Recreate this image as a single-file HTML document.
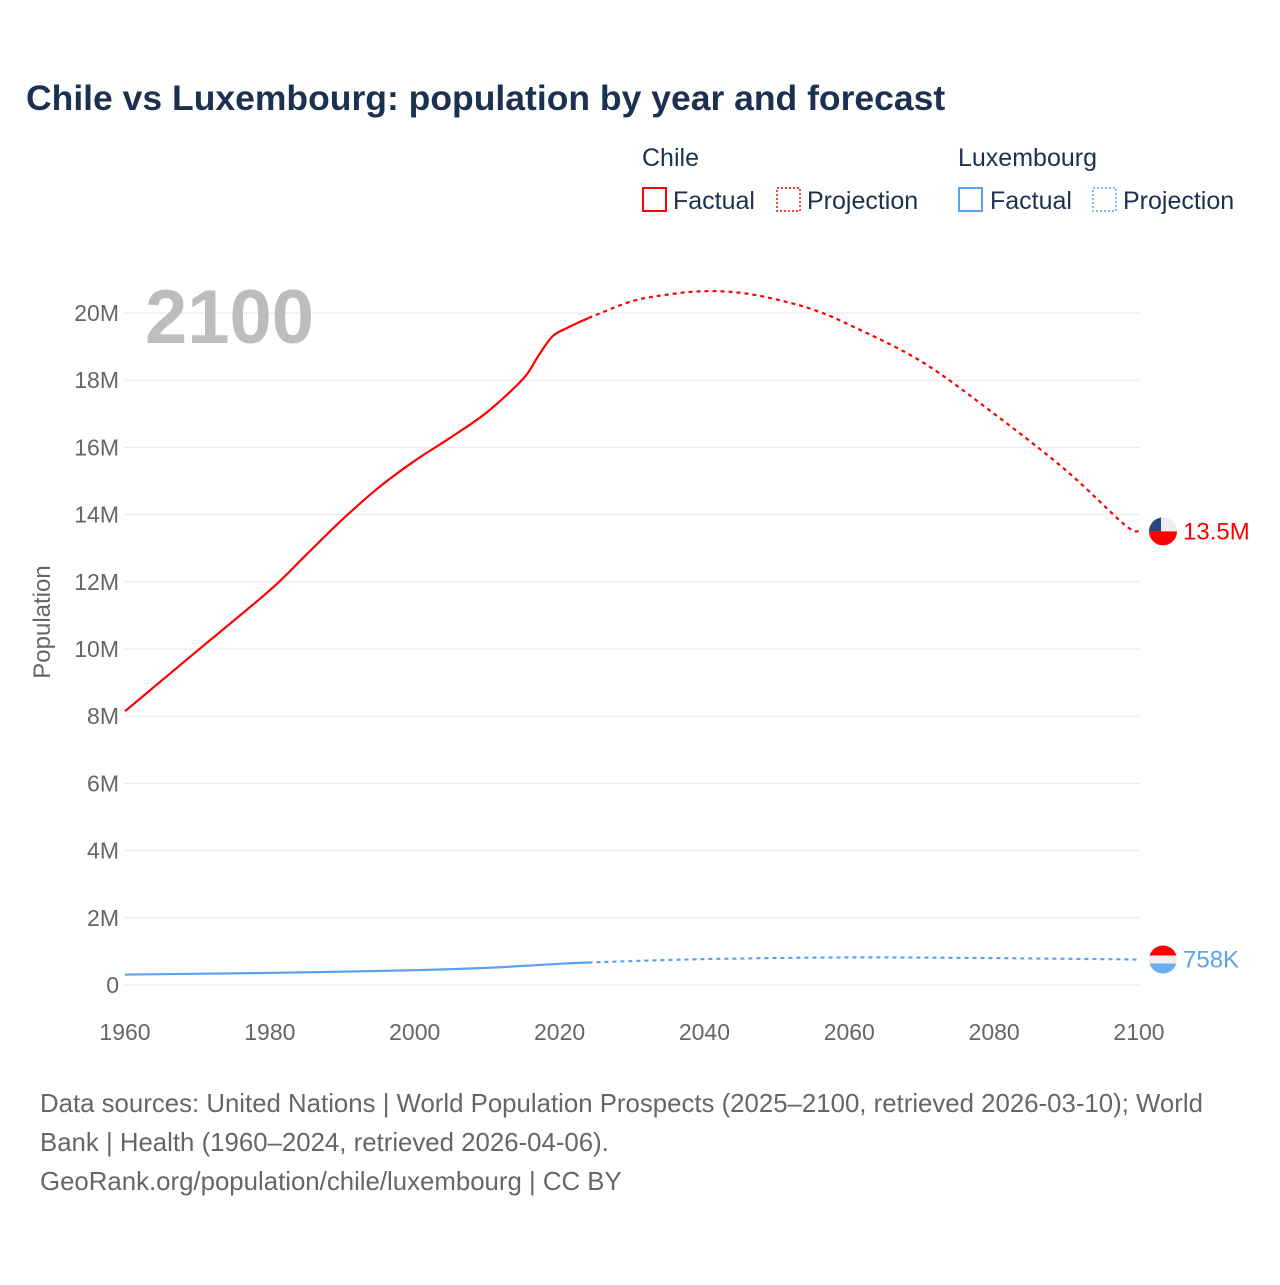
<!DOCTYPE html>
<html><head><meta charset="utf-8"><style>
body{margin:0;background:#fff;width:1280px;height:1280px;overflow:hidden;font-family:"Liberation Sans",sans-serif}
</style></head><body>
<svg id="c" width="1280" height="1280" xmlns="http://www.w3.org/2000/svg">
<defs><clipPath id="cc"><circle cx="0" cy="0" r="14"/></clipPath></defs>
<text x="26" y="110" font-size="35.5" font-weight="bold" fill="#1c3150">Chile vs Luxembourg: population by year and forecast</text>
<g font-size="25" fill="#1c3150">
<text x="642" y="166">Chile</text>
<text x="958" y="166">Luxembourg</text>
<rect x="643" y="188" width="23" height="23" fill="none" stroke="#f00" stroke-width="2"/>
<text x="673" y="209">Factual</text>
<rect x="777" y="188" width="23" height="23" fill="none" stroke="#f00" stroke-width="1.5" stroke-dasharray="2,2"/>
<text x="807" y="209">Projection</text>
<rect x="959" y="188" width="23" height="23" fill="none" stroke="#5aa2ef" stroke-width="2"/>
<text x="990" y="209">Factual</text>
<rect x="1093" y="188" width="23" height="23" fill="none" stroke="#5aa2ef" stroke-width="1.5" stroke-dasharray="2,2"/>
<text x="1123" y="209">Projection</text>
</g>
<g id="grid"></g>
<text x="145" y="343" font-size="76" font-weight="bold" fill="#bdbdbd">2100</text>
<text transform="translate(50,622) rotate(-90)" text-anchor="middle" font-size="24" fill="#666">Population</text>
<g id="series"></g>
<g font-size="25.8" fill="#666">
<text x="40" y="1112">Data sources: United Nations | World Population Prospects (2025–2100, retrieved 2026-03-10); World</text>
<text x="40" y="1151">Bank | Health (1960–2024, retrieved 2026-04-06).</text>
<text x="40" y="1190">GeoRank.org/population/chile/luxembourg | CC BY</text>
</g>
</svg>
<script>
const xTicks=[1960,1980,2000,2020,2040,2060,2080,2100];
const yTicks=[0,2,4,6,8,10,12,14,16,18,20];
const yTickLabels=["0","2M","4M","6M","8M","10M","12M","14M","16M","18M","20M"];
const chileFactYears=[1960,1970,1980,1985,1990,1995,2000,2005,2010,2015,2017,2019,2021,2024];
const chileFact=[8.15,9.95,11.75,12.8,13.85,14.8,15.6,16.3,17.05,18.05,18.7,19.3,19.55,19.85];
const chileProjYears=[2024,2030,2035,2040,2045,2050,2055,2060,2070,2080,2090,2098,2100];
const chileProj=[19.85,20.35,20.55,20.65,20.6,20.4,20.1,19.65,18.55,17.0,15.3,13.7,13.5];
const luxFactYears=[1960,1980,2000,2010,2020,2024];
const luxFact=[0.31,0.36,0.44,0.51,0.63,0.67];
const luxProjYears=[2024,2040,2060,2080,2100];
const luxProj=[0.67,0.77,0.82,0.80,0.758];
const X=y=>125+(y-1960)*(1014/140);
const Y=v=>985-v*33.6;
const ns="http://www.w3.org/2000/svg";
const grid=document.getElementById('grid'),ser=document.getElementById('series');
function mk(tag,attrs,parent){const e=document.createElementNS(ns,tag);for(const k in attrs)e.setAttribute(k,attrs[k]);parent.appendChild(e);return e;}
yTicks.forEach((t,i)=>{
 const l=mk('line',{x1:125,x2:1139,y1:Y(t),y2:Y(t),stroke:'#e6e6e6','stroke-width':1},grid);
 
 
 const tx=mk('text',{x:119,y:Y(t)+8,'text-anchor':'end','font-size':23,fill:'#666'},grid);
 tx.textContent=yTickLabels[i];
 
 
});
xTicks.forEach(t=>{
 const tx=mk('text',{x:X(t),y:1040,'text-anchor':'middle','font-size':23,fill:'#666'},grid);
 tx.textContent=t;
 
 
});
function path(xs,vs){
 const p=xs.map((x,i)=>[X(x),Y(vs[i])]);
 let d='M'+p[0][0].toFixed(1)+','+p[0][1].toFixed(1);
 for(let i=0;i<p.length-1;i++){
  const p0=p[Math.max(0,i-1)],p1=p[i],p2=p[i+1],p3=p[Math.min(p.length-1,i+2)];
  const c1=[p1[0]+(p2[0]-p0[0])/6,p1[1]+(p2[1]-p0[1])/6];
  const c2=[p2[0]-(p3[0]-p1[0])/6,p2[1]-(p3[1]-p1[1])/6];
  d+='C'+c1.map(v=>v.toFixed(1)).join(',')+' '+c2.map(v=>v.toFixed(1)).join(',')+' '+p2.map(v=>v.toFixed(1)).join(',');
 }
 return d;
}
let p;
p=mk('path',{d:path(chileFactYears,chileFact),fill:'none',stroke:'#f00','stroke-width':2.2},ser);


p=mk('path',{d:path(chileProjYears,chileProj),fill:'none',stroke:'#f00','stroke-width':2.2,'stroke-dasharray':'4,4'},ser);


p=mk('path',{d:path(luxFactYears,luxFact),fill:'none',stroke:'#5aa2ef','stroke-width':2.2},ser);


p=mk('path',{d:path(luxProjYears,luxProj),fill:'none',stroke:'#5aa2ef','stroke-width':2.2,'stroke-dasharray':'4,4'},ser);


const cy=Y(chileProj[chileProj.length-1]),ly=Y(luxProj[luxProj.length-1]);
let g=mk('g',{transform:`translate(1163,${cy})`,'clip-path':'url(#cc)'},ser);


mk('rect',{x:-14,y:-14,width:28,height:14,fill:'#eee'},g);
mk('rect',{x:-14,y:-14,width:12,height:14,fill:'#27457a'},g);
mk('rect',{x:-14,y:0,width:28,height:14,fill:'#f00'},g);
let tx=mk('text',{x:1183,y:cy+8,'font-size':24,fill:'#f00'},ser);
tx.textContent='13.5M';


g=mk('g',{transform:`translate(1163,${ly})`,'clip-path':'url(#cc)'},ser);


mk('rect',{x:-14,y:-14,width:28,height:10,fill:'#f00'},g);
mk('rect',{x:-14,y:-4,width:28,height:8,fill:'#eee'},g);
mk('rect',{x:-14,y:4,width:28,height:10,fill:'#6aaef0'},g);
tx=mk('text',{x:1183,y:ly+8,'font-size':24,fill:'#5aa2ef'},ser);
tx.textContent='758K';


</script>
</body></html>
